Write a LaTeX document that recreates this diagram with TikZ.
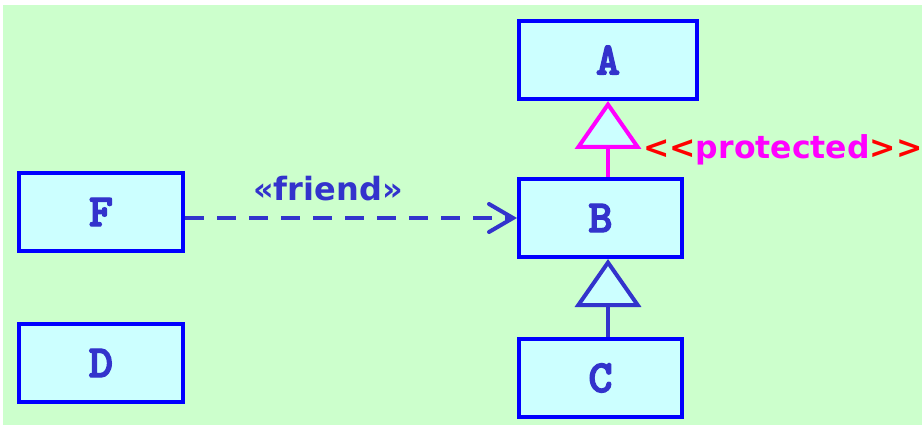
\documentclass[tikz,border=0pt]{standalone}
\usepackage{fontspec}
\usepackage{tikz}
\usetikzlibrary{arrows.meta}
\newfontfamily\umlsans{DejaVu Sans}
\newfontfamily\umlmono{lmmonolt10-bold.otf}[FakeBold=3]
\definecolor{umlbg}{RGB}{204,255,204}
\definecolor{umlfill}{RGB}{204,255,255}
\definecolor{umlborder}{RGB}{0,0,255}
\definecolor{umltext}{RGB}{51,51,204}
\definecolor{umlmagenta}{RGB}{255,0,255}
\definecolor{umlred}{RGB}{255,0,0}

\begin{document}
\begin{tikzpicture}[x=1pt, y=-1pt,
        classbox/.style={draw=umlborder, fill=umlfill, line width=4pt, minimum width=163pt,
          minimum height=78pt, inner sep=0pt, text=umltext,
          font=\umlmono\fontsize{46}{46}\selectfont},
        stereo/.style={font=\umlsans\bfseries\fontsize{32}{36}\selectfont, inner sep=0pt},
        inherit/.style={line width=4pt, -{Triangle[length=48pt, width=66pt, fill=umlfill]}},
        dependency/.style={line width=4pt, draw=umltext, dash pattern=on 19pt off 13pt,
          -{Straight Barb[length=24pt, width=28pt, line cap=round]}}
      ]
      \useasboundingbox (0,0) rectangle (922,425);
      \fill[umlbg] (3,5) rectangle (922,425);
      % classes
      \node[classbox, minimum width=178pt] (A) at (608,60) {A};
      \node[classbox] (B) at (600.5,218) {B};
      \node[classbox] (C) at (600.5,378) {C};
      \node[classbox, minimum width=164pt] (F) at (101,212) {F};
      \node[classbox, minimum width=164pt] (D) at (101,363) {D};
      % generalizations
      \draw[inherit, draw=umlmagenta] (B.north -| A.south) -- (A.south);
      \draw[inherit, draw=umltext] (C.north -| A.south) -- (B.south -| A.south);
      \node[stereo, font=\umlsans\bfseries\fontsize{31.5}{36}\selectfont,
        anchor=base west] (protlbl) at (643,159)
        {\textcolor{umlred}{<\kern0pt<}\textcolor{umlmagenta}{protected}\textcolor{umlred}{>\kern0pt>}};
      % friend dependency
      \draw[dependency] (F.east |- B.west) -- (B.west);
      \node[stereo, text=umltext, anchor=base] (friendlbl) at (328,201) {«friend»};
    \end{tikzpicture}
\end{document}
